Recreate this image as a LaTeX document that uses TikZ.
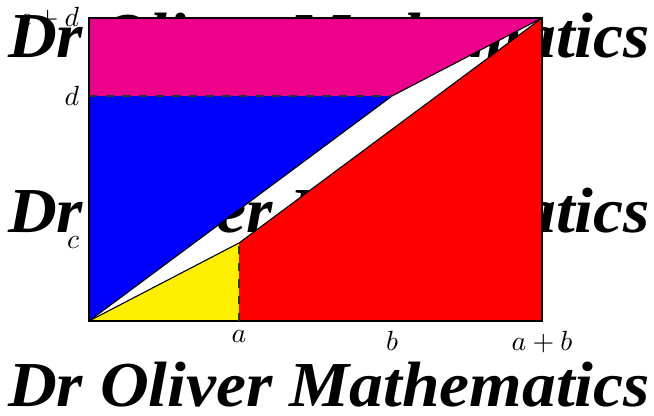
\documentclass[tikz,border=0pt]{standalone}
\usepackage{fontspec}
\usepackage{graphicx}
\newfontfamily\wmfont{Liberation Serif}
\definecolor{mymag}{RGB}{236,0,140}
\definecolor{myyel}{RGB}{255,240,0}
\begin{document}
\begin{tikzpicture}[x=0.36pt,y=0.36pt,
  wm/.style={inner sep=0pt,font=\wmfont\bfseries\itshape},
  edgeline/.style={draw=black,line width=0.4pt},
  dashline/.style={draw=black!80,line width=0.4pt,dashed}]
\useasboundingbox (-89,-95) rectangle (565,321);
% watermark
\foreach \yy [count=\i] in {285,110,-64}
  \node[wm] (wm\i) at (240,\yy) {\resizebox{231pt}{16pt}{Dr Oliver Mathematics}};
% key points
\coordinate (O) at (0,0);
\coordinate (A) at (150,0);
\coordinate (AB) at (453,0);
\coordinate (P) at (150,78);
\coordinate (Q) at (303,225);
\coordinate (D) at (0,225);
\coordinate (CD) at (0,303);
\coordinate (T) at (453,303);
\coordinate (Bx) at (303,0);
% fills
\fill[myyel] (O) -- (A) -- (P) -- cycle;
\fill[red] (A) -- (AB) -- (T) -- (P) -- cycle;
\fill[blue] (O) -- (Q) -- (D) -- cycle;
\fill[mymag] (D) -- (Q) -- (T) -- (CD) -- cycle;
% lines
\draw[edgeline] (O) rectangle (T);
\draw[edgeline] (O) -- (Q) -- (T);
\draw[edgeline] (O) -- (P) -- (T);
\draw[dashline] (D) -- (Q);
\draw[dashline] (A) -- (P);
% labels
\node[left] (lcd) at (CD) {$c+d$};
\node[left] (ld) at (D) {$d$};
\node[left] (lc) at (0,78) {$c$};
\node[below] (la) at (A) {$a$};
\node[below] (lb) at (Bx) {$b$};
\node[below] (lab) at (AB) {$a+b$};
\end{tikzpicture}
\end{document}
